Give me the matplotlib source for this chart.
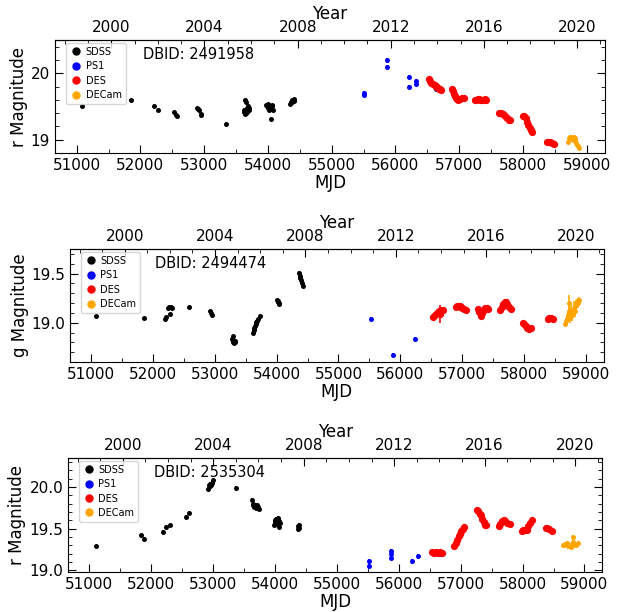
import matplotlib
matplotlib.use("Agg")
import matplotlib.pyplot as plt
from matplotlib.ticker import MultipleLocator, FixedLocator
from matplotlib.lines import Line2D
import numpy as np

SURVEYS = ["SDSS", "PS1", "DES", "DECam"]
COLORS = {"SDSS": "black", "PS1": "blue", "DES": "red", "DECam": "orange"}
YEAR_TICKS = [2000, 2004, 2008, 2012, 2016, 2020]
YEAR_MINOR = list(range(1998, 2022))

# ---- panel 1: DBID 2491958, r band ----
p1_sdss_mjd = [51080, 51850, 52208, 52270, 52526, 52560, 52570, 52893, 52905, 52914, 52945, 52950,
               53337, 53625, 53630, 53640, 53647, 53650, 53655, 53660, 53668, 53675, 53680, 53690,
               53700, 53705, 53640, 53970, 53985, 53995, 54005, 54010, 54020, 54030, 54040, 54045,
               54050, 54060, 54070, 54075, 54340, 54355, 54370, 54385, 54395, 54405, 54415]
p1_sdss_mag = [19.51, 19.59, 19.50, 19.45, 19.42, 19.37, 19.36, 19.48, 19.46, 19.45, 19.39, 19.37,
               19.23, 19.41, 19.44, 19.45, 19.60, 19.57, 19.40, 19.43, 19.47, 19.42, 19.45, 19.50,
               19.48, 19.44, 19.38, 19.52, 19.50, 19.47, 19.53, 19.45, 19.49, 19.51, 19.46, 19.31,
               19.48, 19.52, 19.50, 19.44, 19.54, 19.56, 19.57, 19.59, 19.60, 19.58, 19.61]
p1_ps1_mjd = [55502, 55505, 55863, 55865, 56208, 56210, 56318, 56320, 56628, 56640, 56683, 56690]
p1_ps1_mag = [19.68, 19.70, 20.20, 20.09, 19.95, 19.80, 19.89, 19.84, 19.83, 19.77, 19.76, 19.78]
p1_des_mjd = [56526, 56545, 56565, 56590, 56615, 56640, 56660, 56685, 56705, 56720,
              56893, 56910, 56925, 56940, 56955, 56970, 56985, 57000, 57020, 57045, 57070,
              57247, 57270, 57290, 57310, 57330, 57350, 57375, 57400, 57425,
              57624, 57650, 57680, 57705, 57730, 57755, 57775, 57792,
              58001, 58020, 58043, 58065, 58085, 58105, 58125, 58148,
              58377, 58400, 58425, 58450, 58482]
p1_des_mag = [19.91, 19.89, 19.86, 19.84, 19.82, 19.80, 19.79, 19.77, 19.76, 19.75,
              19.76, 19.73, 19.69, 19.66, 19.63, 19.61, 19.60, 19.61, 19.62, 19.63, 19.63,
              19.59, 19.60, 19.61, 19.62, 19.60, 19.59, 19.60, 19.61, 19.60,
              19.40, 19.40, 19.39, 19.37, 19.34, 19.32, 19.30, 19.30,
              19.36, 19.35, 19.33, 19.27, 19.22, 19.18, 19.15, 19.12,
              18.96, 18.96, 18.97, 18.95, 18.94]
p1_decam_mjd = [58706, 58730, 58745, 58760, 58775, 58790, 58800, 58810, 58820, 58835, 58850, 58865, 58880]
p1_decam_mag = [18.97, 19.02, 19.04, 19.04, 19.03, 19.00, 19.04, 19.03, 18.98, 18.95, 18.92, 18.90, 18.87]

# ---- panel 2: DBID 2494474, g band ----
p2_sdss_mjd = [51080, 51848, 52195, 52205, 52243, 52260, 52275, 52300, 52312, 52579,
               52925, 52940, 52963, 53280, 53290, 53300, 53310, 53320, 53330, 53295,
               53619, 53630, 53640, 53650, 53660, 53670, 53680, 53700, 53725,
               54008, 54015, 54025, 54035, 54045,
               54365, 54375, 54385, 54395, 54405, 54419]
p2_sdss_mag = [19.07, 19.05, 19.04, 19.06, 19.15, 19.16, 19.09, 19.16, 19.15, 19.16,
               19.12, 19.10, 19.08, 18.83, 18.80, 18.82, 18.79, 18.80, 18.81, 18.86,
               18.90, 18.93, 18.95, 18.97, 18.99, 19.01, 19.02, 19.04, 19.07,
               19.23, 19.21, 19.22, 19.20, 19.19,
               19.51, 19.48, 19.45, 19.43, 19.40, 19.37]
p2_ps1_mjd = [55523, 55885, 56232, 56643, 56650]
p2_ps1_mag = [19.04, 18.67, 18.83, 19.11, 19.09]
p2_des_mjd = [56536, 56560, 56590, 56620, 56645, 56660, 56685,
              56899, 56920, 56945, 56965, 56979, 57000, 57030, 57069,
              57261, 57280, 57299, 57320, 57345, 57370, 57395, 57416,
              57619, 57640, 57665, 57690, 57709, 57730, 57755, 57795,
              57984, 58005, 58030, 58055, 58080, 58107,
              58381, 58410, 58440, 58472]
p2_des_mag = [19.06, 19.08, 19.10, 19.12, 19.09, 19.13, 19.13,
              19.16, 19.17, 19.17, 19.17, 19.16, 19.15, 19.14, 19.13,
              19.14, 19.11, 19.07, 19.10, 19.13, 19.15, 19.15, 19.14,
              19.13, 19.16, 19.19, 19.21, 19.21, 19.19, 19.16, 19.14,
              19.00, 18.99, 18.97, 18.95, 18.94, 18.95,
              19.04, 19.05, 19.05, 19.04]
p2_des_err = [0.01, 0.01, 0.01, 0.01, 0.09, 0.01, 0.01,
              0.01, 0.01, 0.01, 0.01, 0.01, 0.01, 0.01, 0.01,
              0.01, 0.01, 0.02, 0.01, 0.01, 0.01, 0.01, 0.01,
              0.01, 0.01, 0.01, 0.01, 0.01, 0.01, 0.01, 0.01,
              0.01, 0.01, 0.01, 0.01, 0.01, 0.01,
              0.01, 0.01, 0.01, 0.01]
p2_decam_mjd = [58659, 58675, 58690, 58705, 58720, 58730, 58745, 58760, 58775, 58790,
                58800, 58820, 58835, 58850, 58865, 58883]
p2_decam_mag = [18.99, 19.02, 19.04, 19.08, 19.10, 19.20, 19.05, 19.12, 19.08, 19.10,
                19.15, 19.12, 19.18, 19.20, 19.20, 19.23]
p2_decam_err = [0.02, 0.03, 0.04, 0.05, 0.06, 0.08, 0.05, 0.07, 0.06, 0.05,
                0.07, 0.06, 0.05, 0.04, 0.05, 0.03]

# ---- panel 3: DBID 2535304, r band ----
p3_sdss_mjd = [51107, 51842, 51895, 52193, 52246, 52305, 52570, 52609,
               52928, 52935, 52945, 52960, 52975, 52990, 53008, 53369,
               53636, 53645, 53655, 53665, 53675, 53685, 53700, 53715, 53730, 53743,
               53982, 53995, 54005, 54015, 54025, 54035, 54045, 54055, 54065, 54075, 54088,
               54370, 54380, 54390, 54395]
p3_sdss_mag = [19.29, 19.42, 19.38, 19.46, 19.52, 19.54, 19.64, 19.69,
               19.98, 20.03, 20.01, 20.04, 20.02, 20.05, 20.08, 19.99,
               19.85, 19.80, 19.78, 19.76, 19.79, 19.77, 19.75, 19.78, 19.76, 19.74,
               19.55, 19.58, 19.60, 19.56, 19.62, 19.58, 19.54, 19.63, 19.59, 19.52, 19.57,
               19.53, 19.50, 19.55, 19.51]
p3_ps1_mjd = [55514, 55518, 55870, 55873, 55876, 56219, 56313, 56634, 56660, 56683]
p3_ps1_mag = [19.11, 19.05, 19.23, 19.19, 19.15, 19.11, 19.17, 19.21, 19.19, 19.21]
p3_des_mjd = [56538, 56570, 56600, 56630, 56665, 56698,
              56899, 56920, 56945, 56970, 56990, 57010, 57035, 57054,
              57257, 57280, 57305, 57326, 57350, 57375, 57400, 57417,
              57619, 57640, 57665, 57693, 57720, 57750, 57800,
              57987, 58010, 58040, 58067, 58095, 58125, 58153,
              58374, 58400, 58430, 58470]
p3_des_mag = [19.22, 19.21, 19.22, 19.21, 19.22, 19.21,
              19.29, 19.33, 19.37, 19.41, 19.44, 19.47, 19.50, 19.52,
              19.72, 19.71, 19.68, 19.66, 19.62, 19.58, 19.55, 19.54,
              19.53, 19.56, 19.59, 19.61, 19.59, 19.57, 19.56,
              19.47, 19.48, 19.48, 19.49, 19.53, 19.57, 19.60,
              19.51, 19.51, 19.50, 19.47]
p3_decam_mjd = [58656, 58680, 58700, 58720, 58740, 58760, 58780, 58800, 58810, 58820,
                58830, 58850, 58870, 58895]
p3_decam_mag = [19.31, 19.32, 19.30, 19.33, 19.29, 19.31, 19.28, 19.30, 19.34, 19.40,
                19.32, 19.30, 19.31, 19.33]

DBIDS = ["2491958", "2494474", "2535304"]
BANDS = ["r", "g", "r"]
YLIMS = [(18.8, 20.5), (18.6, 19.75), (18.98, 20.35)]
YMAJOR = [1.0, 0.5, 0.5]
YMINOR = [0.2, 0.1, 0.1]


def mjd_to_year(m):
    return 2000.0 + (np.asarray(m) - 51544.0) / 365.25


def year_to_mjd(y):
    return 51544.0 + (np.asarray(y) - 2000.0) * 365.25


def draw_panel(ax, data, dbid, band, ylim, ymaj, ymin):
    """data: dict survey -> (mjd, mag, err)"""
    for name in SURVEYS:
        mjd, mag, err = data[name]
        ms = 5.2 if name == "DES" else 3.6
        ax.errorbar(mjd, mag, yerr=err, fmt='o', color=COLORS[name], ms=ms,
                    mew=0, elinewidth=1.2, capsize=0, zorder=2)

    ax.set_xlim(50660, 59290)
    ax.set_ylim(*ylim)
    ax.xaxis.set_major_locator(MultipleLocator(1000))
    ax.xaxis.set_minor_locator(MultipleLocator(500))
    ax.yaxis.set_major_locator(MultipleLocator(ymaj))
    ax.yaxis.set_minor_locator(MultipleLocator(ymin))
    ax.tick_params(which='both', direction='in', right=True, top=False, labelsize=11)
    ax.tick_params(which='major', length=6)
    ax.tick_params(which='minor', length=3)
    ax.set_xlabel("MJD", fontsize=12, labelpad=1)
    ax.set_ylabel(f"{band} Magnitude", fontsize=12, labelpad=2)

    sec = ax.secondary_xaxis('top', functions=(mjd_to_year, year_to_mjd))
    sec.xaxis.set_major_locator(FixedLocator(YEAR_TICKS))
    sec.xaxis.set_minor_locator(FixedLocator(YEAR_MINOR))
    sec.tick_params(which='both', direction='in', labelsize=11)
    sec.tick_params(which='major', length=6)
    sec.tick_params(which='minor', length=3)
    sec.set_xlabel("Year", fontsize=12, labelpad=1)

    ax.text(0.16, 0.87, f"DBID: {dbid}", transform=ax.transAxes,
            ha='left', va='center', fontsize=10.5)

    handles = [Line2D([], [], marker='o', ls='', color=COLORS[n], ms=5) for n in SURVEYS]
    leg = ax.legend(handles, SURVEYS, loc='upper left', bbox_to_anchor=(0.015, 1.0),
                    fontsize=7, borderaxespad=0.3, handletextpad=0.4, handlelength=1.2,
                    labelspacing=0.45, framealpha=0.8)
    leg.set_zorder(5)


fig = plt.figure(figsize=(6.28, 6.12), dpi=100)
positions = [
    [0.0876, 0.750, 0.876, 0.1846],
    [0.1115, 0.4085, 0.850, 0.1846],
    [0.1083, 0.0654, 0.851, 0.1863],
]

panels = [
    {"SDSS": (p1_sdss_mjd, p1_sdss_mag, 0.015),
     "PS1": (p1_ps1_mjd, p1_ps1_mag, 0.03),
     "DES": (p1_des_mjd, p1_des_mag, 0.01),
     "DECam": (p1_decam_mjd, p1_decam_mag, 0.015)},
    {"SDSS": (p2_sdss_mjd, p2_sdss_mag, 0.012),
     "PS1": (p2_ps1_mjd, p2_ps1_mag, 0.02),
     "DES": (p2_des_mjd, p2_des_mag, p2_des_err),
     "DECam": (p2_decam_mjd, p2_decam_mag, p2_decam_err)},
    {"SDSS": (p3_sdss_mjd, p3_sdss_mag, 0.02),
     "PS1": (p3_ps1_mjd, p3_ps1_mag, 0.03),
     "DES": (p3_des_mjd, p3_des_mag, 0.01),
     "DECam": (p3_decam_mjd, p3_decam_mag, 0.02)},
]

for i in range(3):
    ax = fig.add_axes(positions[i])
    draw_panel(ax, panels[i], DBIDS[i], BANDS[i], YLIMS[i], YMAJOR[i], YMINOR[i])

fig.savefig("out.png", dpi=100)
